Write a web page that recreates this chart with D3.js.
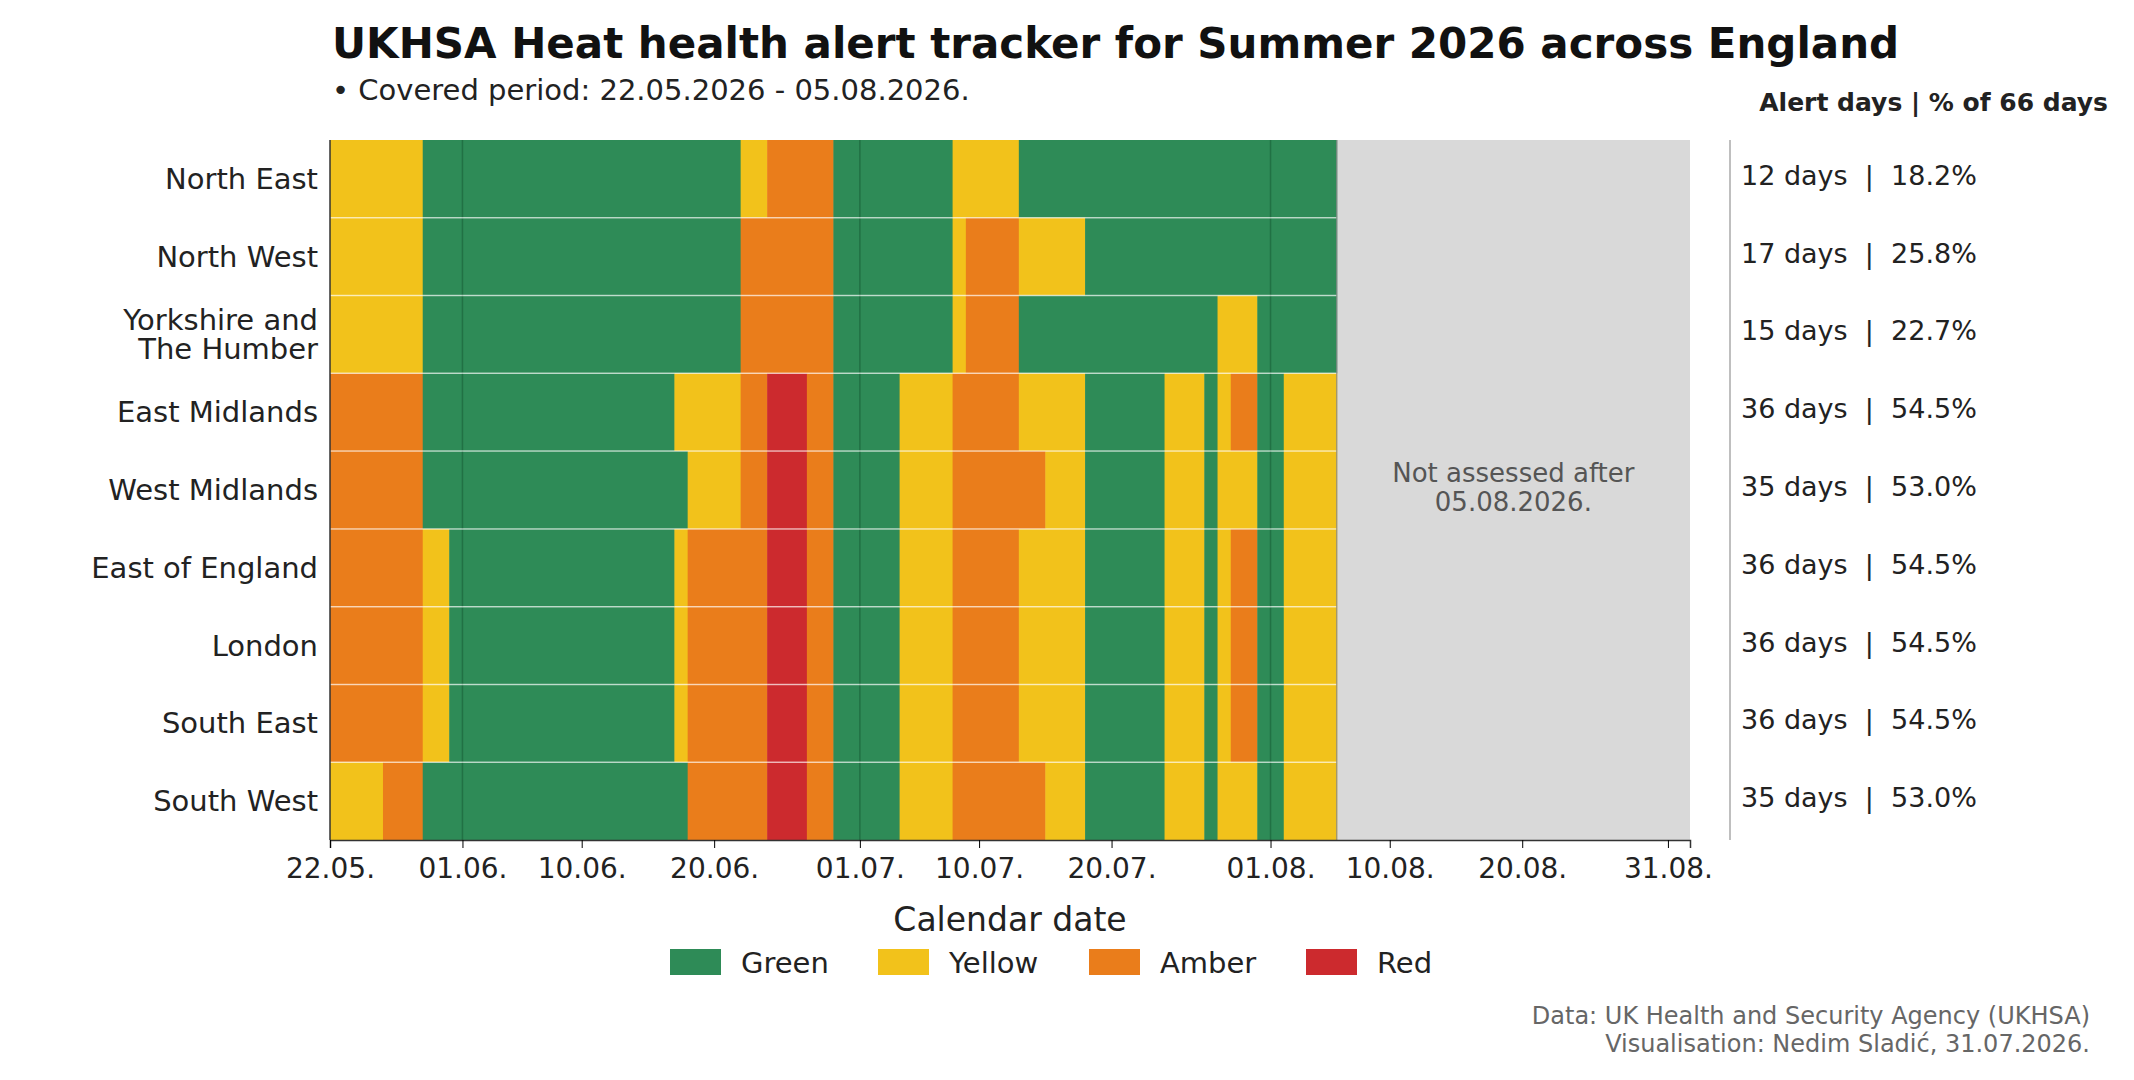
<!DOCTYPE html>
<html><head><meta charset="utf-8">
<script src="https://cdn.jsdelivr.net/npm/d3@7"></script>
<style>body{margin:0;background:#fff}svg{display:block;font-family:"DejaVu Sans",sans-serif}</style>
</head><body><svg id="c" width="2134" height="1080"></svg>
<script>
const regions=["North East","North West","Yorkshire and\nThe Humber","East Midlands","West Midlands","East of England","London","South East","South West"];
// runs: [level, length in days] starting 22.05.2026
const runs=[
 [["Y",7],["G",24],["Y",2],["A",5],["G",9],["Y",5],["G",24]],
 [["Y",7],["G",24],["A",7],["G",9],["Y",1],["A",4],["Y",5],["G",19]],
 [["Y",7],["G",24],["A",7],["G",9],["Y",1],["A",4],["G",15],["Y",3],["G",6]],
 [["A",7],["G",19],["Y",5],["A",2],["R",3],["A",2],["G",5],["Y",4],["A",5],["Y",5],["G",6],["Y",3],["G",1],["Y",1],["A",2],["G",2],["Y",4]],
 [["A",7],["G",20],["Y",4],["A",2],["R",3],["A",2],["G",5],["Y",4],["A",7],["Y",3],["G",6],["Y",3],["G",1],["Y",3],["G",2],["Y",4]],
 [["A",7],["Y",2],["G",17],["Y",1],["A",6],["R",3],["A",2],["G",5],["Y",4],["A",5],["Y",5],["G",6],["Y",3],["G",1],["Y",1],["A",2],["G",2],["Y",4]],
 [["A",7],["Y",2],["G",17],["Y",1],["A",6],["R",3],["A",2],["G",5],["Y",4],["A",5],["Y",5],["G",6],["Y",3],["G",1],["Y",1],["A",2],["G",2],["Y",4]],
 [["A",7],["Y",2],["G",17],["Y",1],["A",6],["R",3],["A",2],["G",5],["Y",4],["A",5],["Y",5],["G",6],["Y",3],["G",1],["Y",1],["A",2],["G",2],["Y",4]],
 [["Y",4],["A",3],["G",20],["A",6],["R",3],["A",2],["G",5],["Y",4],["A",7],["Y",3],["G",6],["Y",3],["G",1],["Y",3],["G",2],["Y",4]]
];
const summaries=["12 days  |  18.2%","17 days  |  25.8%","15 days  |  22.7%","36 days  |  54.5%","35 days  |  53.0%","36 days  |  54.5%","36 days  |  54.5%","36 days  |  54.5%","35 days  |  53.0%"];
const tickDates=["2026-05-22","2026-06-01","2026-06-10","2026-06-20","2026-07-01","2026-07-10","2026-07-20","2026-08-01","2026-08-10","2026-08-20","2026-08-31"];
const monthLines=["2026-06-01","2026-07-01","2026-08-01"];
const levels=["G","Y","A","R"], levelNames=["Green","Yellow","Amber","Red"];
const colors={G:"#2e8b57",Y:"#f2c21b",A:"#ea7d1b",R:"#cc2a2e"};
const startDate=new Date(Date.UTC(2026,4,22)), lastEnd=new Date(Date.UTC(2026,7,6)), axisEnd=new Date(Date.UTC(2026,8,1,16,0));

const svg=d3.select("#c");
const L=330,R=1690,T=140,B=840;
const x=d3.scaleUtc().domain([startDate,axisEnd]).range([L,R]);
const y=d3.scaleBand().domain(d3.range(regions.length)).range([T,B]);
const pd=s=>new Date(s+"T00:00:00Z");

svg.append("rect").attr("x",x(lastEnd)).attr("y",T).attr("width",R-x(lastEnd)).attr("height",B-T).attr("fill","#d9d9d9");
runs.forEach((row,i)=>{let d=0;row.forEach(([lv,n])=>{
  svg.append("rect").attr("x",x(d3.utcDay.offset(startDate,d))).attr("y",y(i))
   .attr("width",x(d3.utcDay.offset(startDate,d+n))-x(d3.utcDay.offset(startDate,d))+0.5).attr("height",y.bandwidth()).attr("fill",colors[lv]);
  d+=n;});});
monthLines.forEach(s=>svg.append("line").attr("x1",x(pd(s))).attr("x2",x(pd(s))).attr("y1",T).attr("y2",B).attr("stroke","#1f6b40").attr("stroke-width",1.5).attr("opacity",0.8));
d3.range(1,regions.length).forEach(i=>svg.append("line").attr("x1",L).attr("x2",x(lastEnd)).attr("y1",y(i)).attr("y2",y(i)).attr("stroke","#fff").attr("stroke-opacity",0.6).attr("stroke-width",1.5));
svg.append("line").attr("x1",x(lastEnd)).attr("x2",x(lastEnd)).attr("y1",T).attr("y2",B).attr("stroke","#888").attr("stroke-width",1);

const ax=svg.append("g").attr("transform",`translate(0,${B})`).call(d3.axisBottom(x).tickValues(tickDates.map(pd)).tickFormat(d3.utcFormat("%d.%m.")).tickSize(8).tickPadding(10));
ax.select(".domain").attr("stroke","#333").attr("stroke-width",1.5);
ax.selectAll("text").attr("font-size",28).attr("fill","#222").attr("font-family","DejaVu Sans");
svg.append("line").attr("x1",L).attr("x2",L).attr("y1",T).attr("y2",B).attr("stroke","#333").attr("stroke-width",1.5);

regions.forEach((r,i)=>{const lines=r.split("\n");const t=svg.append("text").attr("x",318).attr("text-anchor","end").attr("font-size",29).attr("fill","#222");
 const cy=y(i)+y.bandwidth()/2;lines.forEach((ln,k)=>t.append("tspan").attr("x",318).attr("y",cy+10+(k-(lines.length-1)/2)*29).text(ln));});
svg.append("line").attr("x1",1730).attr("x2",1730).attr("y1",T).attr("y2",B).attr("stroke","#aaa").attr("stroke-width",1.5);
summaries.forEach((s,i)=>svg.append("text").attr("x",1741).attr("y",y(i)+y.bandwidth()/2+6).attr("font-size",27).attr("fill","#222").style("white-space","pre").text(s));
svg.append("text").attr("x",2108).attr("y",111).attr("text-anchor","end").attr("font-size",25).attr("font-weight","bold").attr("fill","#222").text("Alert days | % of 66 days");

const nx=(x(lastEnd)+R)/2;
svg.append("text").attr("x",nx).attr("y",482).attr("text-anchor","middle").attr("font-size",26).attr("fill","#555").text("Not assessed after");
svg.append("text").attr("x",nx).attr("y",511).attr("text-anchor","middle").attr("font-size",26).attr("fill","#555").text("05.08.2026.");

svg.append("text").attr("x",332).attr("y",58).attr("font-size",42).attr("font-weight","bold").attr("fill","#111").text("UKHSA Heat health alert tracker for Summer 2026 across England");
svg.append("text").attr("x",332).attr("y",100).attr("font-size",29).attr("fill","#222").text("• Covered period: 22.05.2026 - 05.08.2026.");
svg.append("text").attr("x",(L+R)/2).attr("y",931).attr("text-anchor","middle").attr("font-size",33).attr("fill","#222").text("Calendar date");

const lgX=[670,878,1089,1306];
levels.forEach((lv,i)=>{svg.append("rect").attr("x",lgX[i]).attr("y",949).attr("width",51).attr("height",26).attr("fill",colors[lv]);
 svg.append("text").attr("x",lgX[i]+71).attr("y",973).attr("font-size",29).attr("fill","#222").text(levelNames[i]);});

svg.append("text").attr("x",2090).attr("y",1024).attr("text-anchor","end").attr("font-size",24).attr("fill","#666").text("Data: UK Health and Security Agency (UKHSA)");
svg.append("text").attr("x",2090).attr("y",1052).attr("text-anchor","end").attr("font-size",24).attr("fill","#666").text("Visualisation: Nedim Sladić, 31.07.2026.");
</script></body></html>
